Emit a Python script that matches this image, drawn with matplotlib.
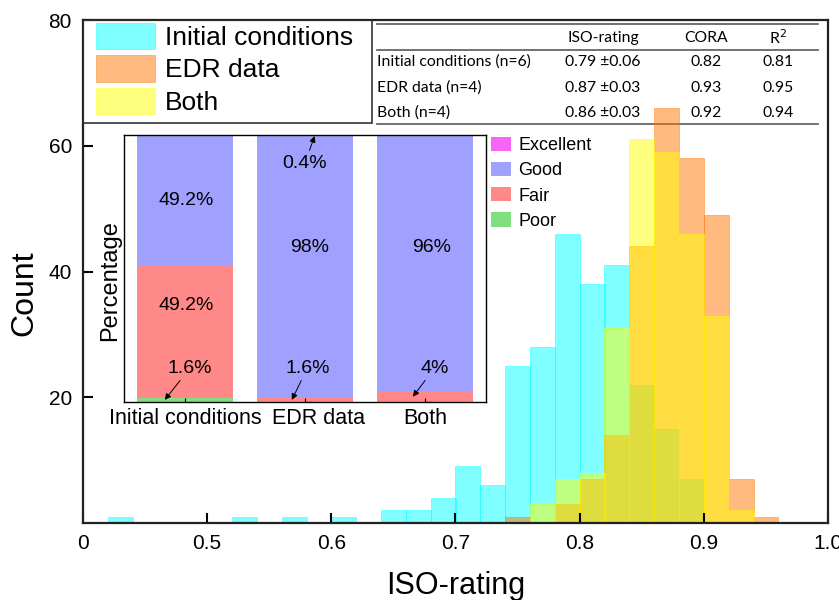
import numpy as np
import matplotlib
matplotlib.use('Agg')
import matplotlib.pyplot as plt
import matplotlib.transforms as mtransforms
from matplotlib.patches import Rectangle
from matplotlib.lines import Line2D

plt.rcParams['font.family'] = ['Liberation Sans', 'DejaVu Sans']

# histogram data (bin left edges, width 0.02)
bin_left = [0.42, 0.44, 0.46, 0.48, 0.50, 0.52, 0.54, 0.56, 0.58, 0.60,
            0.62, 0.64, 0.66, 0.68, 0.70, 0.72, 0.74, 0.76, 0.78, 0.80,
            0.82, 0.84, 0.86, 0.88, 0.90, 0.92, 0.94]
initial_counts = [1, 0, 0, 0, 0, 1, 0, 1, 0, 1,
                  0, 2, 2, 4, 9, 6, 25, 28, 46, 38,
                  41, 22, 15, 7, 0, 0, 0]
edr_counts = [0, 0, 0, 0, 0, 0, 0, 0, 0, 0,
              0, 0, 0, 0, 0, 0, 1, 0, 3, 7,
              14, 44, 66, 58, 49, 7, 1]
both_counts = [0, 0, 0, 0, 0, 0, 0, 0, 0, 0,
               0, 0, 0, 0, 0, 0, 0, 3, 7, 8,
               31, 61, 59, 46, 33, 2, 0]
series_names = ['Initial conditions', 'EDR data', 'Both']

xtick_pos = [0.4, 0.5, 0.6, 0.7, 0.8, 0.9, 1.0]
xtick_lab = ['0', '0.5', '0.6', '0.7', '0.8', '0.9', '1.0']
ytick_pos = [20, 40, 60, 80]

# inset: rating shares (%)
groups = ['Initial conditions', 'EDR data', 'Both']
poor = [1.6, 0, 0]
fair = [49.2, 1.6, 4]
good = [49.2, 98, 96]
excellent = [0, 0.4, 0]

# summary table
tab_header = ['ISO-rating', 'CORA', 'R$^2$']
tab_rows = ['Initial conditions (n=6)', 'EDR data (n=4)', 'Both (n=4)']
tab_iso = ['0.79 \u00b10.06', '0.87 \u00b10.03', '0.86 \u00b10.03']
tab_cora = ['0.82', '0.93', '0.92']
tab_r2 = ['0.81', '0.95', '0.94']

W, H = 839, 600
fig = plt.figure(figsize=(W / 100, H / 100), dpi=100)
ax = fig.add_axes([83 / W, 1 - 523 / H, 745 / W, 503 / H])

cols = ['#00ffff', '#ff7700', '#ffff00']
handles = []
for cnt, c, name in zip([initial_counts, edr_counts, both_counts], cols, series_names):
    b = ax.bar(bin_left, cnt, width=0.02, align='edge', color=c, alpha=0.5,
               edgecolor=c, linewidth=0.6, label=name, zorder=1)
    handles.append(b)

ax.set_xlim(0.4, 1.0)
ax.set_ylim(0, 80)
ax.set_xticks(xtick_pos)
ax.set_xticklabels(xtick_lab)
ax.set_yticks(ytick_pos)
ax.tick_params(direction='in', length=7, width=1.5, labelsize=15, pad=8)
for s in ax.spines.values():
    s.set_linewidth(1.6)
    s.set_color('#222222')
ax.set_xlabel('ISO-rating', fontsize=22, labelpad=13)
ax.set_ylabel('Count', fontsize=23)
ax.yaxis.set_label_coords(-0.058, 0.457)

# legend box
ax.add_patch(Rectangle((83 / W, 1 - 123 / H), (372 - 83) / W, 103 / H,
                       transform=fig.transFigure, fill=False, lw=1.2,
                       edgecolor='#333333', zorder=3))
fig.legend(handles=handles, loc='upper left', bbox_to_anchor=(96 / W, 1 - 23 / H),
           frameon=False, fontsize=19, handlelength=2.25, handleheight=1.15,
           handletextpad=0.35, labelspacing=0.2, borderpad=0, borderaxespad=0)

# table
for y in [24, 50, 124]:
    ax.add_line(Line2D([377 / W, 818 / W], [1 - y / H, 1 - y / H], transform=fig.transFigure,
                       color='#666666', lw=1.3, zorder=0.5))
tfont = dict(family=['Lato', 'DejaVu Sans'], fontsize=11.3, va='center')
col_x = [603, 706, 778]
for x, t in zip(col_x, tab_header):
    fig.text(x / W, 1 - 38 / H, t, ha='center', **tfont)
for i, y in enumerate([62, 88, 113]):
    fig.text(377 / W, 1 - y / H, tab_rows[i], ha='left', **tfont)
    for x, t in zip(col_x, [tab_iso[i], tab_cora[i], tab_r2[i]]):
        fig.text(x / W, 1 - y / H, t, ha='center', **tfont)

# inset
axi = fig.add_axes([124 / W, 1 - 402 / H, 362 / W, 267 / H])
xpos = np.arange(len(groups))
bottom = np.zeros(len(groups))
seg_cols = {'Poor': '#80e080', 'Fair': '#ff8888', 'Good': '#a0a0ff', 'Excellent': '#f566f5'}
seg_bars = {}
for name, vals in [('Poor', poor), ('Fair', fair), ('Good', good), ('Excellent', excellent)]:
    seg_bars[name] = axi.bar(xpos, vals, width=0.8, bottom=bottom, color=seg_cols[name], label=name)
    bottom = bottom + np.array(vals)
axi.set_xlim(-0.51, 2.51)
axi.set_ylim(0, 100)
axi.set_yticks([])
axi.set_xticks(xpos)
axi.set_xticklabels(groups)
axi.tick_params(axis='x', direction='in', length=3, labelsize=15.5, pad=4)
# nudge the middle label right, as in the original
lbl = axi.get_xticklabels()[1]
lbl.set_transform(lbl.get_transform() + mtransforms.ScaledTranslation(14 / 100, 0, fig.dpi_scale_trans))
axi.set_ylabel('Percentage', fontsize=17)
axi.yaxis.set_label_coords(-0.008, 0.453)
for s in axi.spines.values():
    s.set_linewidth(1.0)

fmt = lambda v: f'{v:g}%'
lab_fs = 14
axi.text(0.01, 75.4, fmt(good[0]), ha='center', va='center', fontsize=lab_fs)
axi.text(0.01, 36.3, fmt(fair[0]), ha='center', va='center', fontsize=lab_fs)
axi.text(1.04, 58, fmt(good[1]), ha='center', va='center', fontsize=lab_fs)
axi.text(2.06, 58, fmt(good[2]), ha='center', va='center', fontsize=lab_fs)
arw = dict(arrowstyle='-|>', color='black', lw=0.7, mutation_scale=9, shrinkA=1, shrinkB=0)
axi.annotate(fmt(poor[0]), xy=(-0.17, poor[0] / 2), xytext=(0.04, 12.7),
             ha='center', va='center', fontsize=lab_fs, arrowprops=arw)
axi.annotate(fmt(excellent[1]), xy=(1.08, 99.6), xytext=(1.0, 89.5),
             ha='center', va='center', fontsize=lab_fs, arrowprops=arw)
axi.annotate(fmt(fair[1]), xy=(0.89, fair[1] / 2), xytext=(1.02, 12.7),
             ha='center', va='center', fontsize=lab_fs, arrowprops=arw)
axi.annotate(fmt(fair[2]), xy=(1.9, fair[2] / 2), xytext=(2.08, 12.7),
             ha='center', va='center', fontsize=lab_fs, arrowprops=arw)

fig.legend(handles=[seg_bars[k] for k in ['Excellent', 'Good', 'Fair', 'Poor']],
           loc='upper left', bbox_to_anchor=(491 / W, 1 - 137 / H), frameon=False,
           fontsize=13, handlelength=1.1, handleheight=0.85, handletextpad=0.4,
           labelspacing=0.42, borderpad=0, borderaxespad=0)

fig.savefig('out.png', dpi=100)
